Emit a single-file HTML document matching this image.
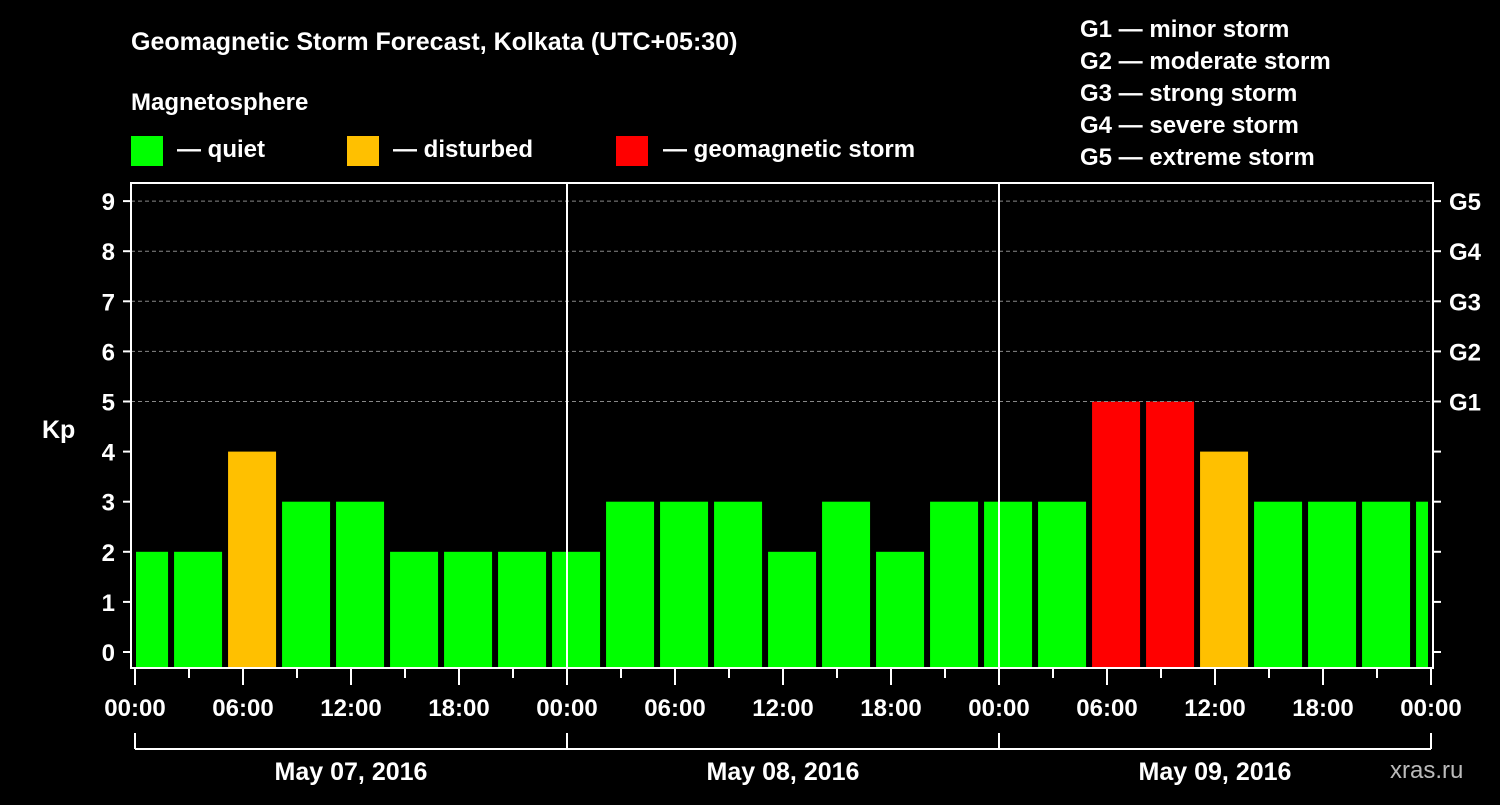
<!DOCTYPE html>
<html><head><meta charset="utf-8"><style>
body{margin:0;background:#000;width:1500px;height:800px;overflow:hidden}
svg text{font-family:"Liberation Sans",sans-serif;font-weight:bold;fill:#fff}
</style></head><body>
<svg id="c" width="1500" height="800">
<text x="131" y="50" font-size="25">Geomagnetic Storm Forecast, Kolkata (UTC+05:30)</text>
<text x="131" y="110" font-size="24">Magnetosphere</text>
<rect x="131" y="136" width="32" height="30" fill="#00ff00"/>
<text x="177" y="157" font-size="24">— quiet</text>
<rect x="347" y="136" width="32" height="30" fill="#ffc000"/>
<text x="393" y="157" font-size="24">— disturbed</text>
<rect x="616" y="136" width="32" height="30" fill="#ff0000"/>
<text x="663" y="157" font-size="24">— geomagnetic storm</text>
<g font-size="24">
<text x="1080" y="37">G1 — minor storm</text>
<text x="1080" y="69">G2 — moderate storm</text>
<text x="1080" y="101">G3 — strong storm</text>
<text x="1080" y="133">G4 — severe storm</text>
<text x="1080" y="165">G5 — extreme storm</text>
</g>
<text x="42" y="438" font-size="25">Kp</text>
<text x="1390" y="778" font-size="24" fill="#bbb" style="fill:#bbb;font-weight:normal">xras.ru</text>
<g id="g"></g>
</svg>
<script>
const values=[2,2,4,3,3,2,2,2,2,3,3,3,2,3,2,3,3,3,5,5,4,3,3,3,3];
const yTicks=[0,1,2,3,4,5,6,7,8,9];
const gLabels=["G1","G2","G3","G4","G5"];
const xLabels=["00:00","06:00","12:00","18:00","00:00","06:00","12:00","18:00","00:00","06:00","12:00","18:00","00:00"];
const dates=["May 07, 2016","May 08, 2016","May 09, 2016"];
const L=131,R=1433,T=183,B=668;
const ns="http://www.w3.org/2000/svg",g=document.getElementById('g');
function y(v){return 652-v*50.1;}
function x(h){return 135+h*18;} // hours from May 07 00:00 local
function el(t,a,txt){const e=document.createElementNS(ns,t);for(const k in a)e.setAttribute(k,a[k]);if(txt!==undefined)e.textContent=txt;g.appendChild(e);return e;}
// bars: 3-hourly UTC, offset +5:30 -> start at local -1h + 3k (shifted), drawn width 48
values.forEach((v,i)=>{
  let x0=x(-0.83+3*i), x1=x0+48;
  x0=Math.max(x0,L+5); x1=Math.min(x1,R-5);
  const c=v>=5?"#ff0000":v>=4?"#ffc000":"#00ff00";
  const r=el('rect',{x:x0,y:y(v),width:x1-x0,height:B-y(v),fill:c});
  
  
});
yTicks.forEach(v=>{
  if(v>=5){const d=el('line',{x1:L,x2:R,y1:y(v),y2:y(v),stroke:'#888','stroke-dasharray':'4,3'});
  }
  el('line',{x1:123,x2:L,y1:y(v),y2:y(v),stroke:'#fff','stroke-width':2});
  el('line',{x1:R,x2:1441,y1:y(v),y2:y(v),stroke:'#fff','stroke-width':2});
  const t=el('text',{x:115,y:y(v)+9,'font-size':24,'text-anchor':'end'},v);
  
});
gLabels.forEach((s,i)=>{const t=el('text',{x:1449,y:y(5+i)+9,'font-size':24},s);
  });
[24,48].forEach(h=>el('line',{x1:x(h),x2:x(h),y1:T,y2:B,stroke:'#fff','stroke-width':2}));
const fr=el('rect',{x:L,y:T,width:R-L,height:B-T,fill:'none',stroke:'#fff','stroke-width':2});

for(let h=0;h<=72;h+=3){el('line',{x1:x(h),x2:x(h),y1:B,y2:h%6==0?685:678,stroke:'#fff','stroke-width':2});}
xLabels.forEach((s,i)=>{const t=el('text',{x:x(i*6),y:716,'font-size':24,'text-anchor':'middle'},s);
  });
el('line',{x1:x(0),x2:x(72),y1:749,y2:749,stroke:'#fff','stroke-width':2});
[0,24,48,72].forEach(h=>el('line',{x1:x(h),x2:x(h),y1:733,y2:749,stroke:'#fff','stroke-width':2}));
dates.forEach((s,i)=>{const t=el('text',{x:x(i*24+12),y:780,'font-size':25,'text-anchor':'middle'},s);
  });
</script>
</body></html>
